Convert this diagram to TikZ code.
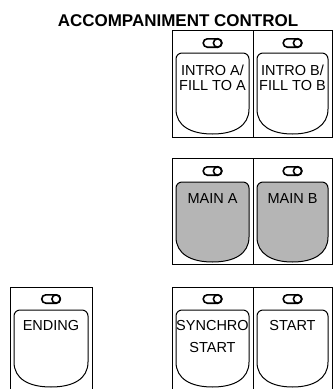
\documentclass[tikz,border=0pt]{standalone}
\usepackage{fontspec}
\setmainfont{Liberation Sans}
\newcommand\mycup[5]{% #1 options, #2 L, #3 R, #4 top, #5 bottom
  \draw[cupline,#1] ({#2},{#5-25}) -- ({#2},{#4+6})
    .. controls ({#2},{#4+2.7}) and ({#2+2.7},{#4}) .. ({#2+6},{#4})
    -- ({#3-6},{#4})
    .. controls ({#3-2.7},{#4}) and ({#3},{#4+2.7}) .. ({#3},{#4+6})
    -- ({#3},{#5-25})
    .. controls ({#3},{#5-8}) and ({#3-15},{#5}) .. ({(#2+#3)/2},{#5})
    .. controls ({#2+15},{#5}) and ({#2},{#5-8}) .. cycle;}
\newcommand\myled[2]{% #1 cx, #2 cy
  \draw[ledline,rounded corners=4.2pt] ({#1-9.3},{#2-4.2}) rectangle ({#1+9.3},{#2+4.2});
  \draw[ledline] ({#1+5.1},{#2}) circle[radius=4.2pt];}
\begin{document}
\begin{tikzpicture}[x=1pt,y=-1pt,
  frameline/.style={line width=0.9pt},
  cupline/.style={line width=1pt},
  ledline/.style={line width=1.6pt},
  lab/.style={font=\fontsize{14.5}{17}\selectfont,anchor=base,inner sep=0pt},
  ttl/.style={font=\bfseries\fontsize{17}{20}\selectfont,anchor=base,inner sep=0pt},
  gray fill/.style={fill=black!29}]
\useasboundingbox (0,0) rectangle (333,389);
% title
\node[ttl] (title) at (178,26) {ACCOMPANIMENT CONTROL};
% top row
\draw[frameline] (172,30) rectangle (332,137);
\draw[frameline] (253,30) -- (253,137);
\myled{212.5}{43}
\myled{292.5}{43}
\mycup{}{176}{249}{53}{134}
\mycup{}{257}{328}{53}{134}
\node[lab] (introA1) at (212.5,75) {INTRO A/};
\node[lab] (introA2) at (212.5,90) {FILL TO A};
\node[lab] (introB1) at (292.5,75) {INTRO B/};
\node[lab] (introB2) at (292.5,90) {FILL TO B};
% middle row
\draw[frameline] (172,158) rectangle (332,264);
\draw[frameline] (253,158) -- (253,264);
\myled{212.5}{171}
\myled{292.5}{171}
\mycup{gray fill}{176}{249}{182}{262}
\mycup{gray fill}{257}{328}{182}{262}
\node[lab] (mainA) at (212.5,203) {MAIN A};
\node[lab] (mainB) at (292.5,203) {MAIN B};
% bottom row
\draw[frameline] (10,389) -- (10,287) -- (92,287) -- (92,389);
\draw[frameline] (172,389) -- (172,287) -- (332,287) -- (332,389);
\draw[frameline] (253,287) -- (253,389);
\myled{51}{299}
\myled{212.5}{299}
\myled{292.5}{299}
\mycup{}{14}{88}{310}{387}
\mycup{}{176}{249}{310}{387}
\mycup{}{257}{328}{310}{387}
\node[lab] (ending) at (51,330) {ENDING};
\node[lab] (sync1) at (212.5,330) {SYNCHRO};
\node[lab] (sync2) at (212.5,352) {START};
\node[lab] (start) at (292.5,330) {START};
\end{tikzpicture}
\end{document}
